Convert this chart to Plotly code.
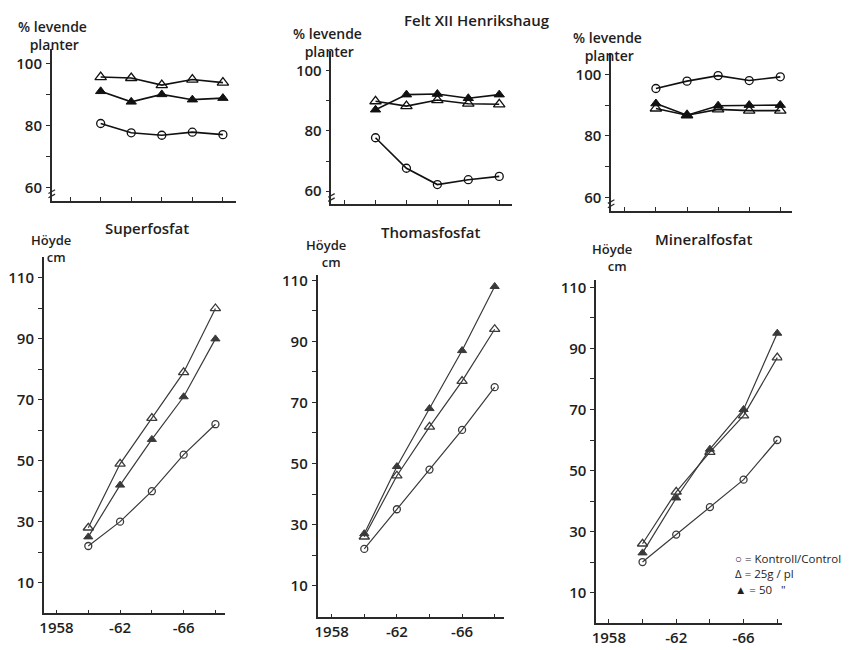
import plotly.graph_objects as go

W, H = 851, 650

years = [1960, 1962, 1964, 1966, 1968]

# % levende planter (survival)
surv_super_ctrl = [80.6, 77.6, 76.8, 77.8, 77.0]
surv_super_25 = [95.6, 95.3, 93.0, 94.8, 93.8]
surv_super_50 = [91.0, 87.6, 90.0, 88.3, 88.8]

surv_thomas_ctrl = [77.7, 67.6, 62.2, 63.8, 64.9]
surv_thomas_25 = [89.8, 88.2, 90.2, 89.0, 88.8]
surv_thomas_50 = [87.0, 92.0, 92.2, 90.8, 92.0]

surv_mineral_ctrl = [95.4, 97.8, 99.6, 98.0, 99.2]
surv_mineral_25 = [88.9, 86.7, 88.6, 88.2, 88.2]
surv_mineral_50 = [90.5, 86.7, 89.8, 90.0, 90.0]

# Höyde cm (height)
h_super_ctrl = [22, 30, 40, 52, 62]
h_super_25 = [28, 49, 64, 79, 100]
h_super_50 = [25, 42, 57, 71, 90]

h_thomas_ctrl = [22, 35, 48, 61, 75]
h_thomas_25 = [26, 46, 62, 77, 94]
h_thomas_50 = [27, 49, 68, 87, 108]

h_mineral_ctrl = [20, 29, 38, 47, 60]
h_mineral_25 = [26, 43, 56, 68, 87]
h_mineral_50 = [23, 41, 57, 70, 95]

titles = ["Superfosfat", "Thomasfosfat", "Mineralfosfat"]
main_title = "Felt XII Henrikshaug"
surv_label = "% levende<br>&nbsp;planter"
height_label = "Höyde<br>&nbsp;&nbsp;&nbsp;cm"
legend_lines = ["○ = Kontroll/Control", "Δ = 25g / pl", "▲ = 50   \""]

surv_ticks = [60, 70, 80, 90, 100]
surv_ticktext = ["60", "", "80", "", "100"]
h_ticks = [10, 20, 30, 40, 50, 60, 70, 80, 90, 100, 110]
h_ticktext = ["10", "", "30", "", "50", "", "70", "", "90", "", "110"]
x_ticks = [1958, 1960, 1962, 1964, 1966, 1968]
x_ticktext = ["1958", "", "-62", "", "-66", ""]

FONT = "Open Sans"
INK = "#1e1e1e"

# panel layout in pixels: x0, x1, ytop, ybottom, xrange, yrange
panels = [
    dict(px=(48, 233, 43, 197), xr=[1956.8, 1968.85], yr=[55.5, 104.8], kind="s"),
    dict(px=(329, 510, 45, 200), xr=[1957.15, 1968.8], yr=[55.7, 106.6], kind="s"),
    dict(px=(610, 792, 47, 207), xr=[1957.12, 1968.77], yr=[55.5, 107.1], kind="s"),
    dict(px=(40, 222, 253, 613), xr=[1957.2, 1968.6], yr=[-0.1, 117.0], kind="h"),
    dict(px=(315, 502, 272, 617), xr=[1957.13, 1968.55], yr=[-0.4, 111.6], kind="h"),
    dict(px=(595, 782, 277, 623), xr=[1957.25, 1968.3], yr=[-0.06, 112.3], kind="h"),
]

series = [
    (surv_super_ctrl, surv_super_25, surv_super_50),
    (surv_thomas_ctrl, surv_thomas_25, surv_thomas_50),
    (surv_mineral_ctrl, surv_mineral_25, surv_mineral_50),
    (h_super_ctrl, h_super_25, h_super_50),
    (h_thomas_ctrl, h_thomas_25, h_thomas_50),
    (h_mineral_ctrl, h_mineral_25, h_mineral_50),
]

fig = go.Figure()
layout = dict(
    width=W, height=H, margin=dict(l=0, r=0, t=0, b=0),
    paper_bgcolor="white", plot_bgcolor="white", showlegend=False,
    font=dict(family=FONT, color=INK, size=15),
)
shapes = []

for i, (p, s) in enumerate(zip(panels, series)):
    n = i + 1
    xa = "x" if n == 1 else f"x{n}"
    ya = "y" if n == 1 else f"y{n}"
    x0, x1, yt, yb = p["px"]
    top = p["kind"] == "s"
    lw = 1.6 if top else 1.2
    lc = "#111" if top else "#3a3a3a"
    ms = 8 if top else 7
    styles = [
        dict(symbol="circle-open", size=ms, color=lc, line=dict(width=1.3, color=lc)),
        dict(symbol="triangle-up-open", size=ms + 2, color=lc, line=dict(width=1.3, color=lc)),
        dict(symbol="triangle-up", size=ms + 1, color=lc, line=dict(width=1, color=lc)),
    ]
    for vals, mk in zip(s, styles):
        fig.add_trace(go.Scatter(
            x=years, y=vals, xaxis=xa, yaxis=ya, mode="lines+markers",
            line=dict(color=lc, width=lw), marker=mk, hoverinfo="skip"))
    axkey_x = "xaxis" if n == 1 else f"xaxis{n}"
    axkey_y = "yaxis" if n == 1 else f"yaxis{n}"
    layout[axkey_x] = dict(
        domain=[x0 / W, x1 / W], range=p["xr"], anchor=ya,
        showline=True, linecolor="#2a2a2a", linewidth=1.6, showgrid=False, zeroline=False,
        ticks="inside", ticklen=4, tickwidth=1.3, tickcolor="#2a2a2a",
        tickvals=x_ticks, ticktext=(["" for _ in x_ticks] if top else x_ticktext),
        showticklabels=not top, tickfont=dict(family=FONT, size=15, color=INK, weight=600),
    )
    layout[axkey_y] = dict(
        domain=[1 - yb / H, 1 - yt / H], range=p["yr"], anchor=xa,
        showline=True, linecolor="#2a2a2a", linewidth=1.6, showgrid=False, zeroline=False,
        ticks="outside", ticklen=4, tickwidth=1.3, tickcolor="#2a2a2a",
        tickvals=(surv_ticks if top else h_ticks),
        ticktext=(surv_ticktext if top else h_ticktext),
        tickfont=dict(family=FONT, size=15, color=INK, weight=600), ticklabelstandoff=1,
    )
    if top:
        # axis break marks just below 60
        for yy in (57.2, 58.6):
            shapes.append(dict(type="line", xref=f"{xa} domain", yref=ya,
                               x0=-0.018, x1=0.018, y0=yy - 0.6, y1=yy + 0.6,
                               line=dict(color="#2a2a2a", width=1.3)))

layout["shapes"] = shapes

ann = []
def text(px, py, t, size=15, weight=600, xanchor="center"):
    ann.append(dict(x=px / W, y=1 - py / H, xref="paper", yref="paper", text=t,
                    showarrow=False, xanchor=xanchor, yanchor="middle", align="center",
                    font=dict(family=FONT, size=size, color=INK, weight=weight)))

text(475, 14, main_title, 15)
# survival y labels
for (cx, cy) in [(49, 30), (325, 37), (606, 41)]:
    text(cx, cy, surv_label, 14)
# height y labels
for (cx, cy) in [(47, 245), (324, 250), (611, 254)]:
    text(cx, cy, height_label, 13)
# panel titles
for (cx, cy), t in zip([(144, 224), (429, 228), (703, 235)], titles):
    text(cx, cy, t, 15)
# legend
for k, (ly, t) in enumerate(zip([558, 573, 589], legend_lines)):
    text(732, ly, t, 11.5, 400, xanchor="left")

layout["annotations"] = ann
fig.update_layout(**layout)
fig.write_html("out.html")
